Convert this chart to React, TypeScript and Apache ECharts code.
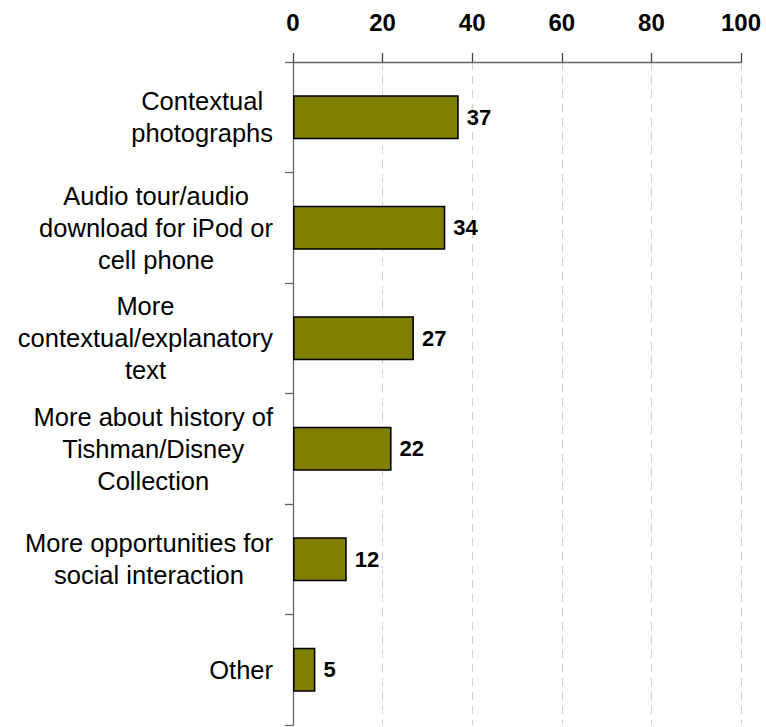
import React, { useEffect, useRef } from "react";
import * as echarts from "echarts";

const categories: string[] = [
  "Contextual\nphotographs",
  "Audio tour/audio\ndownload for iPod or\ncell phone",
  "More\ncontextual/explanatory\ntext",
  "More about history of\nTishman/Disney\nCollection",
  "More opportunities for\nsocial interaction",
  "Other",
];
const values: number[] = [37, 34, 27, 22, 12, 5];
const xTicks = { min: 0, max: 100, interval: 20 };

const FONT = "Arial, 'Liberation Sans', Helvetica, sans-serif";

export default function App() {
  const ref = useRef<HTMLDivElement>(null);
  useEffect(() => {
    if (!ref.current) return;
    const chart = echarts.init(ref.current, null, { renderer: "svg" });
    chart.setOption({
      animation: false,
      backgroundColor: "#ffffff",
      grid: { left: 293, right: 25, top: 62, bottom: 2, containLabel: false },
      xAxis: {
        type: "value",
        position: "top",
        min: xTicks.min,
        max: xTicks.max,
        interval: xTicks.interval,
        axisLine: { show: true, lineStyle: { color: "#666", width: 1.3 } },
        axisTick: { show: true, length: 9, lineStyle: { color: "#444", width: 1.3 } },
        axisLabel: {
          margin: 28,
          color: "#000",
          fontSize: 24,
          fontWeight: "bold",
          fontFamily: FONT,
        },
        splitLine: { show: true, lineStyle: { color: "#cfcfcf", type: [8, 6], width: 1 } },
      },
      yAxis: {
        type: "category",
        data: categories,
        inverse: true,
        axisLine: { show: true, lineStyle: { color: "#666", width: 1.3 } },
        axisTick: { show: true, length: 8, lineStyle: { color: "#666", width: 1.3 } },
        axisLabel: {
          margin: 20,
          align: "right",
          formatter: (v: string) =>
            v
              .split("\n")
              .map((l) => `{c|${l}}`)
              .join("\n"),
          rich: {
            c: {
              align: "center",
              fontSize: 25.5,
              lineHeight: 32,
              fontFamily: FONT,
              color: "#000",
            },
          },
        },
      },
      series: [
        {
          type: "bar",
          data: values,
          barCategoryGap: "60%",
          itemStyle: { color: "#808000", borderColor: "#000", borderWidth: 1.6 },
          label: {
            show: true,
            position: "right",
            distance: 8,
            color: "#000",
            fontSize: 22,
            fontWeight: "bold",
            fontFamily: FONT,
          },
        },
      ],
    });
    return () => chart.dispose();
  }, []);
  return (
    <div
      ref={ref}
      style={{ position: "absolute", left: 0, top: 0, width: 766, height: 727 }}
    />
  );
}
